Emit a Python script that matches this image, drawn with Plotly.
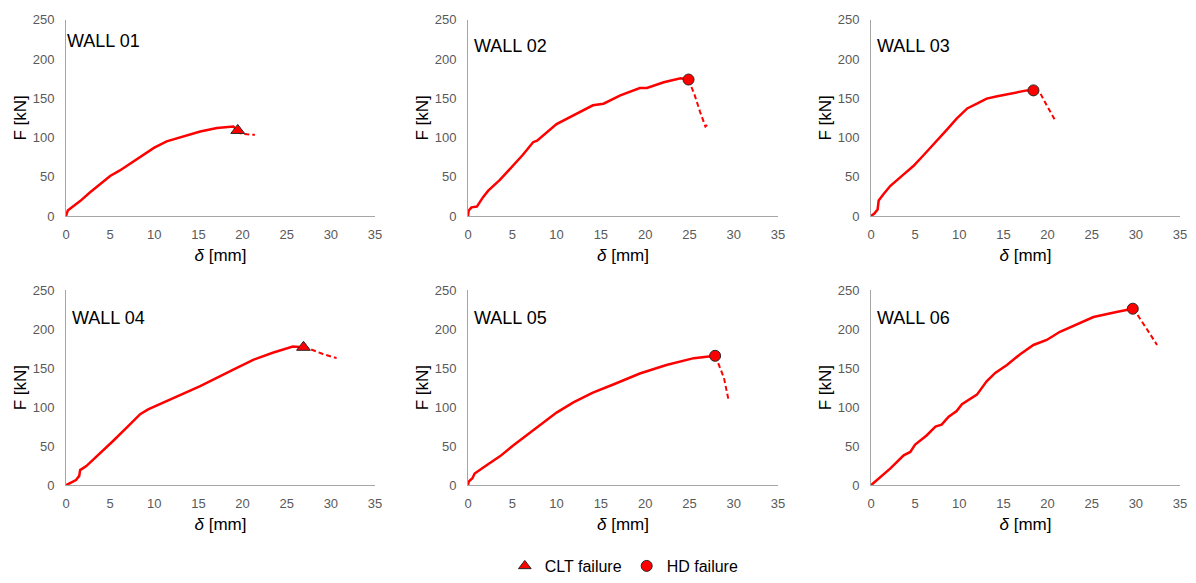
import plotly.graph_objects as go

# ---------------- data ----------------
wall_names = ["WALL 01", "WALL 02", "WALL 03", "WALL 04", "WALL 05", "WALL 06"]
failure_modes = ["CLT", "HD", "HD", "CLT", "HD", "HD"]

# WALL 01
w1_d = [0, 0.2, 0.6, 1.6, 2.7, 3.85, 5.0, 6.1, 7.4, 8.8, 10.0, 11.4, 12.9, 14.4, 15.2, 17.1, 18.95, 19.45]
w1_f = [0, 7, 10.5, 19, 30, 41, 51, 58, 68, 78, 87, 95, 100, 105.5, 107.6, 112, 114, 109]
w1_post_d = [19.45, 19.7, 20.5, 21.4]
w1_post_f = [109, 105.5, 104, 103.4]

# WALL 02
w2_d = [0, 0.08, 0.4, 1.0, 1.7, 2.26, 3.6, 5.1, 6.2, 7.35, 7.8, 10.0, 11.9, 14.1, 15.3, 17.2, 19.4, 20.2, 22.1, 24.0, 24.9]
w2_f = [0, 7, 11, 12, 24, 32, 46, 64, 78, 94, 96, 117, 128.5, 141, 143, 153.7, 163, 163, 170.4, 175.5, 173.8]
w2_post_d = [24.9, 25.1, 25.6, 26.2, 26.8, 27.0]
w2_post_f = [173.8, 168, 153.7, 132.7, 114, 116]

# WALL 03
w3_d = [0, 0.38, 0.75, 0.87, 1.43, 2.2, 3.7, 4.8, 6.0, 7.1, 8.6, 9.7, 10.9, 12.0, 13.1, 14.3, 16.1, 17.65, 18.4]
w3_f = [0, 3, 8.4, 19.7, 28, 38.5, 53, 63.6, 78, 91, 110, 124, 137, 143, 149.5, 152.4, 157, 160, 160]
w3_post_d = [18.4, 19.2, 19.9, 20.9]
w3_post_f = [160, 155.8, 141, 121]

# WALL 04
w4_d = [0, 0.64, 1.13, 1.5, 1.6, 2.3, 3.85, 5.36, 6.9, 8.4, 9.3, 11.4, 15.2, 18.95, 21.2, 23.5, 25.7, 26.9]
w4_f = [0, 3.4, 6.7, 12, 19.4, 24.5, 40.5, 57, 74, 91, 97, 108, 127, 148, 160.6, 170, 177.5, 176.6]
w4_post_d = [26.9, 27.6, 29.1, 30.65]
w4_post_f = [176.6, 174.5, 168, 162.7]

# WALL 05
w5_d = [0, 0.08, 0.5, 0.75, 2.1, 3.6, 5.1, 6.6, 8.1, 10.0, 11.9, 14.1, 16.4, 19.4, 22.4, 25.5, 27.9]
w5_f = [0, 4.6, 8.9, 15, 25.7, 37, 51, 63.7, 76, 93, 106, 118.5, 129, 143, 154, 162.7, 165.7]
w5_post_d = [27.9, 28.1, 28.9, 29.4]
w5_post_f = [165.7, 160.6, 137.4, 110]

# WALL 06
w6_d = [0, 0.68, 2.2, 3.7, 4.45, 5.0, 6.3, 7.3, 8.0, 8.8, 9.7, 10.3, 12.0, 13.1, 14.07, 15.4, 16.9, 18.4, 19.9, 21.4, 23.3, 25.2, 27.8, 29.65]
w6_f = [0, 6.7, 21.5, 38.4, 42.6, 52, 63.7, 75, 77.6, 87.7, 95, 103.7, 116, 133, 143.8, 154, 167.8, 179.6, 186, 196.5, 206, 215.4, 221.8, 226]
w6_post_d = [29.65, 30.1, 31.2, 32.4]
w6_post_f = [226, 219.6, 200.7, 179.6]

x_ticks = [0, 5, 10, 15, 20, 25, 30, 35]
y_ticks = [0, 50, 100, 150, 200, 250]
legend_labels = {"CLT": "CLT failure", "HD": "HD failure"}

# ---------------- figure ----------------
W, H = 1196, 583
FONT = "Liberation Sans, Arial, sans-serif"
RED = "#FF0000"
AXIS_GREY = "#A6A6A6"
symbols = {"CLT": "triangle-up", "HD": "circle"}

curves = [
    (w1_d, w1_f, w1_post_d, w1_post_f),
    (w2_d, w2_f, w2_post_d, w2_post_f),
    (w3_d, w3_f, w3_post_d, w3_post_f),
    (w4_d, w4_f, w4_post_d, w4_post_f),
    (w5_d, w5_f, w5_post_d, w5_post_f),
    (w6_d, w6_f, w6_post_d, w6_post_f),
]

col_px = [(66, 375), (468, 778), (871, 1180)]
row_px = [(20, 219), (294, 492)]
label_pos = [(65, 42), (472, 47), (875, 47), (70, 322), (472, 322), (875, 322)]

fig = go.Figure()
layout = dict(
    width=W, height=H, autosize=False,
    margin=dict(l=0, r=0, t=0, b=0),
    paper_bgcolor="white", plot_bgcolor="white",
    font=dict(family=FONT, color="#595959", size=13),
    showlegend=True,
    legend=dict(orientation="h", x=0.522, xanchor="center", y=1 - 574 / H, yanchor="middle",
                font=dict(size=16, color="#000000", family=FONT), itemwidth=30,
                bgcolor="rgba(0,0,0,0)"),
)
annotations = []

for i, (d, f, pd_, pf) in enumerate(curves):
    r, c = divmod(i, 3)
    k = "" if i == 0 else str(i + 1)
    xa, ya = "x" + k, "y" + k
    fig.add_trace(go.Scatter(x=d, y=f, mode="lines", line=dict(color=RED, width=2.5),
                             xaxis=xa, yaxis=ya, showlegend=False, hoverinfo="skip"))
    fig.add_trace(go.Scatter(x=pd_, y=pf, mode="lines", line=dict(color=RED, width=2, dash="5px,3px"),
                             xaxis=xa, yaxis=ya, showlegend=False, hoverinfo="skip"))
    mode = failure_modes[i]
    fig.add_trace(go.Scatter(x=[d[-1]], y=[f[-1]], mode="markers",
                             marker=dict(symbol=symbols[mode], size=11 if mode == "HD" else 12,
                                         color=RED, line=dict(color="#262626", width=1)),
                             xaxis=xa, yaxis=ya, showlegend=False, hoverinfo="skip"))
    x0, x1 = col_px[c]
    y0, y1 = row_px[r]
    layout["xaxis" + k] = dict(
        domain=[x0 / W, x1 / W], anchor=ya, range=[0, 35], tickvals=x_ticks,
        showline=True, linecolor=AXIS_GREY, linewidth=1, showgrid=False, zeroline=False,
        ticks="", ticklabelstandoff=6, automargin=False,
        tickfont=dict(size=13, color="#595959"),
        title=dict(text="<i>δ</i> [mm]", font=dict(size=17, color="#000000"), standoff=8),
    )
    layout["yaxis" + k] = dict(
        domain=[1 - y1 / H, 1 - y0 / H], anchor=xa, range=[0, 250], tickvals=y_ticks,
        showline=True, linecolor=AXIS_GREY, linewidth=1, showgrid=False, zeroline=False,
        ticks="", ticklabelstandoff=8, automargin=False,
        tickfont=dict(size=13, color="#595959"),
        title=dict(text="F [kN]", font=dict(size=17, color="#000000"), standoff=1),
    )
    lx, ly = label_pos[i]
    annotations.append(dict(text=wall_names[i], xref="paper", yref="paper",
                            x=lx / W, y=1 - ly / H, xanchor="left", yanchor="middle",
                            showarrow=False, font=dict(size=18, color="#000000", family=FONT)))

for mode in ["CLT", "HD"]:
    fig.add_trace(go.Scatter(x=[None], y=[None], mode="markers", name=legend_labels[mode],
                             marker=dict(symbol=symbols[mode], size=11, color=RED,
                                         line=dict(color="#262626", width=1)),
                             xaxis="x", yaxis="y", showlegend=True))

layout["annotations"] = annotations
fig.update_layout(**layout)
fig.write_html("out.html",
               config={"responsive": False, "displayModeBar": False},
               post_script="document.body.style.margin='0px';document.body.style.overflow='hidden';")
